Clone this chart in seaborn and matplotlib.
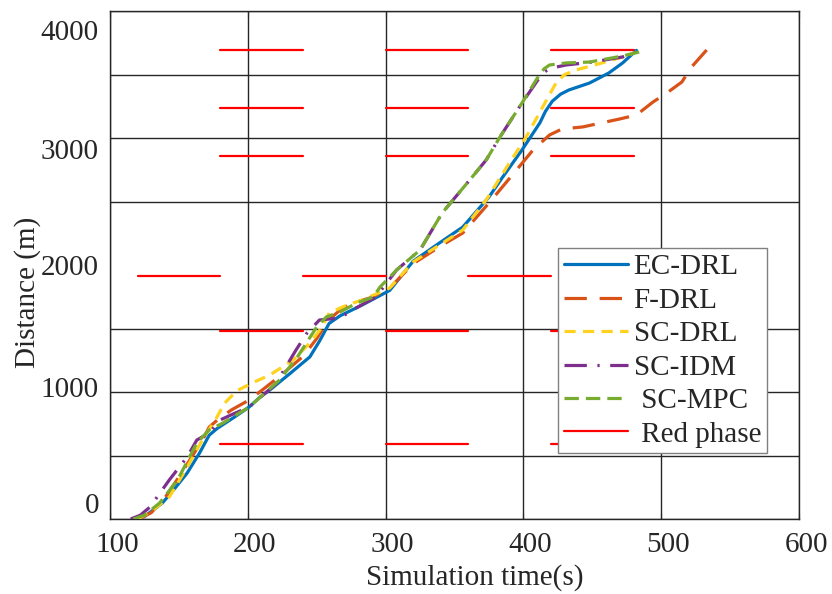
import numpy as np
import pandas as pd
import matplotlib
matplotlib.use("Agg")
import matplotlib.pyplot as plt
import matplotlib.transforms as mtransforms
import seaborn as sns

# trajectories: time (s), distance (m)
ec_t = [119.6, 125, 130, 138, 147, 156, 165, 172, 178, 190, 201, 209, 216, 230, 245, 252, 259, 267,
        283, 303, 320, 339, 356, 375, 385, 399, 412, 416, 421, 427, 433, 448, 462, 472, 482]
ec_d = [0, 20, 60, 126, 240, 362, 520, 660, 715, 800, 882, 961, 1016, 1140, 1276, 1400, 1540, 1600,
        1685, 1800, 2030, 2173, 2299, 2535, 2693, 2906, 3120, 3210, 3290, 3345, 3378, 3433, 3512, 3591, 3690]

f_t = [121, 130, 140, 150, 160, 168, 172, 178, 188, 201, 211, 225, 240, 250, 258, 267, 276, 290,
       303, 320, 340, 356, 375, 395, 407, 419, 428, 443, 470, 482, 494, 504, 515, 522, 533]
f_d = [0, 50, 170, 330, 500, 640, 724, 780, 858, 937, 1020, 1140, 1280, 1420, 1560, 1646, 1700, 1745,
       1819, 2010, 2150, 2252, 2488, 2748, 2906, 3024, 3071, 3087, 3150, 3181, 3283, 3354, 3441, 3559, 3693]

sc_drl_t = [120, 130, 143, 155, 167, 177, 183, 192, 204, 216, 233, 245, 254, 259, 272, 283, 303,
            320, 356, 373, 388, 402, 414, 424, 430, 438, 457, 472, 482]
sc_drl_d = [0, 60, 173, 390, 622, 790, 910, 1010, 1075, 1134, 1252, 1386, 1512, 1622, 1685, 1724, 1819,
            2024, 2276, 2512, 2772, 3008, 3244, 3440, 3500, 3535, 3591, 3638, 3677]

sc_idm_t = [115, 122, 129, 143, 156, 163, 172, 180, 190, 201, 220, 235, 243, 252, 267, 276, 293,
            308, 325, 341, 361, 373, 383, 399, 414, 419, 424, 431, 450, 472, 486]
sc_idm_d = [0, 30, 94, 307, 488, 622, 677, 780, 830, 882, 1060, 1331, 1465, 1567, 1583, 1646, 1748,
            1961, 2118, 2409, 2669, 2827, 3008, 3276, 3512, 3545, 3559, 3575, 3598, 3638, 3693]

sc_mpc_t = [117, 125, 136, 149, 163, 172, 182, 201, 223, 236, 250, 257, 267, 279, 291, 296, 308,
            325, 341, 361, 373, 383, 399, 410, 415, 419, 431, 448, 472, 484]
sc_mpc_d = [0, 30, 126, 307, 598, 701, 756, 882, 1094, 1276, 1512, 1591, 1630, 1700, 1748, 1827, 1961,
            2118, 2409, 2669, 2827, 3008, 3276, 3470, 3545, 3575, 3591, 3598, 3646, 3677]

# red phases: intersection distance and red windows (start, end)
red_dist = [591, 1480, 1913, 2858, 3236, 3693]
red_start = [[180, 300, 420], [180, 300, 420], [120, 240, 360, 480], [180, 300, 420], [180, 300, 420], [180, 300, 420]]
red_len = 60

ytick_labels = ["0", "1000", "2000", "3000", "4000"]
xtick_vals = [100, 200, 300, 400, 500, 600]

sns.set_style("white")
plt.rcParams["font.family"] = ["Liberation Serif", "DejaVu Serif"]

fig = plt.figure(figsize=(8.32, 5.94), dpi=100)
ax = fig.add_axes([110 / 832, 75 / 594, 689 / 832, 508 / 594])

series = [
    ("EC-DRL", ec_t, ec_d, "#0072BD", "-"),
    ("F-DRL", f_t, f_d, "#D95319", (0, (7, 4))),
    ("SC-DRL", sc_drl_t, sc_drl_d, "#FFD21F", (0, (3.5, 2.3))),
    ("SC-IDM", sc_idm_t, sc_idm_d, "#7E2F8E", (0, (7, 3.3, 0.7, 3.3))),
    (" SC-MPC", sc_mpc_t, sc_mpc_d, "#77AC30", (0, (4.5, 2.2))),
]
for name, t, d, col, ls in series:
    df = pd.DataFrame({"t": t, "d": d})
    sns.lineplot(data=df, x="t", y="d", ax=ax, color=col, linestyle=ls, linewidth=2.3,
                 estimator=None, sort=False, errorbar=None, label=name, zorder=3)

first = True
for dist, starts in zip(red_dist, red_start):
    for s in starts:
        ax.plot([s, s + red_len], [dist, dist], color="#FF0000", linewidth=1.6, zorder=2,
                label=" Red phase" if first else None)
        first = False

ax.set_xlim(100, 600)
ax.set_ylim(0, 4000)

# grid every 500 m, labels sit where the original figure put them
ax.set_yticks(np.arange(0, 4001, 500), minor=True)
ax.set_yticks([126, 1039, 2000, 2913, 3850])
ax.set_yticklabels(ytick_labels)
ax.set_xticks(xtick_vals)
ax.grid(False)
ax.grid(True, which="minor", axis="y", color="#262626", linewidth=1.0, zorder=1)
ax.grid(True, which="major", axis="x", color="#262626", linewidth=1.0, zorder=1)
ax.set_axisbelow(True)

ax.tick_params(axis="y", which="major", length=0, pad=8, labelsize=21, colors="#262626")
ax.tick_params(axis="y", which="minor", direction="in", length=4, left=True, right=True)
ax.tick_params(axis="x", which="major", direction="in", length=4, top=True, bottom=True,
               pad=9, labelsize=21, colors="#262626")
shift = mtransforms.ScaledTranslation(7 / 100, 0, fig.dpi_scale_trans)
for lbl in ax.get_xticklabels():
    lbl.set_transform(lbl.get_transform() + shift)

for sp in ax.spines.values():
    sp.set_color("#262626")
    sp.set_linewidth(1.0)

ax.set_xlabel("Simulation time(s)", fontsize=21, color="#262626")
ax.set_ylabel("Distance (m)", fontsize=21, color="#262626")
ax.xaxis.set_label_coords(0.53, -0.116)
ax.xaxis.label.set_va("center")
ax.yaxis.set_label_coords(-0.12, 0.447)
ax.yaxis.label.set_va("center")

leg = ax.legend(loc="upper left", bbox_to_anchor=(0.65, 0.533), fontsize=21, frameon=True,
                fancybox=False, framealpha=1, edgecolor="#808080", handlelength=2.2,
                handletextpad=0.2, labelspacing=0.24, borderpad=0.2, borderaxespad=0)
leg.get_frame().set_linewidth(1.0)
leg.set_zorder(5)

fig.savefig("out.png", dpi=100)
